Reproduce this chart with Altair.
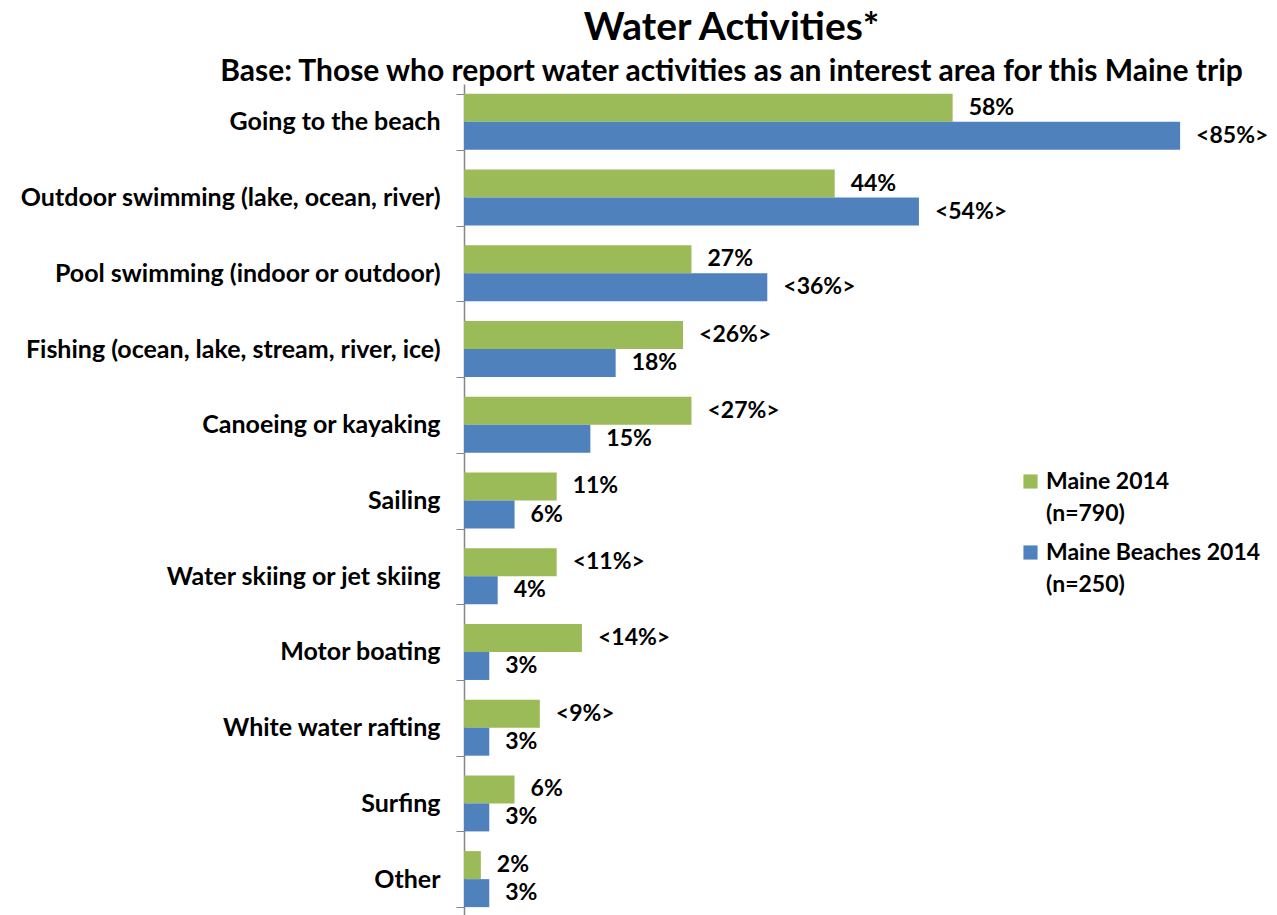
import altair as alt
import pandas as pd

categories = [
    "Going to the beach",
    "Outdoor swimming (lake, ocean, river)",
    "Pool swimming (indoor or outdoor)",
    "Fishing (ocean, lake, stream, river, ice)",
    "Canoeing or kayaking",
    "Sailing",
    "Water skiing or jet skiing",
    "Motor boating",
    "White water rafting",
    "Surfing",
    "Other",
]
series_names = ["Maine 2014", "Maine Beaches 2014"]
sample_sizes = ["(n=790)", "(n=250)"]
maine_2014 = [58, 44, 27, 26, 27, 11, 11, 14, 9, 6, 2]
beaches_2014 = [85, 54, 36, 18, 15, 6, 4, 3, 3, 3, 3]
maine_labels = ["58%", "44%", "27%", "<26%>", "<27%>", "11%", "<11%>", "<14%>", "<9%>", "6%", "2%"]
beaches_labels = ["<85%>", "<54%>", "<36%>", "18%", "15%", "6%", "4%", "3%", "3%", "3%", "3%"]
colors = ["#9BBB59", "#4F81BD"]

series_full = [f"{s}\n{n}" for s, n in zip(series_names, sample_sizes)]

rows = []
for i, c in enumerate(categories):
    rows.append({"activity": c, "series": series_full[0],
                 "value": maine_2014[i], "label": maine_labels[i]})
    rows.append({"activity": c, "series": series_full[1],
                 "value": beaches_2014[i], "label": beaches_labels[i]})
df = pd.DataFrame(rows)

FONT = "Lato"

y_enc = alt.Y(
    "activity:N",
    sort=categories,
    scale=alt.Scale(paddingInner=0.26, paddingOuter=0.13),
    axis=alt.Axis(
        title=None,
        labelFont=FONT,
        labelFontSize=25,
        labelFontWeight="bold",
        labelColor="black",
        labelPadding=16,
        labelLimit=460,
        tickBand="extent",
        tickSize=8,
        tickColor="#868686",
        domainColor="#868686",
        domainWidth=1.5,
        grid=False,
    ),
)
x_enc = alt.X("value:Q", scale=alt.Scale(domain=[0, 96.5]), axis=None)
yoff = alt.YOffset("series:N", sort=series_full)

bars = alt.Chart(df).mark_bar(size=28).encode(
    y=y_enc,
    x=x_enc,
    yOffset=yoff,
    color=alt.Color(
        "series:N",
        sort=series_full,
        scale=alt.Scale(domain=series_full, range=colors),
        legend=alt.Legend(
            title=None,
            orient="none",
            legendX=555,
            legendY=386,
            symbolType="square",
            symbolSize=200,
            symbolStrokeWidth=0,
            labelFont=FONT,
            labelFontSize=23,
            labelFontWeight="bold",
            labelColor="black",
            labelExpr="split(datum.label, '\\n')",
            labelLimit=300,
            rowPadding=15,
            labelOffset=4,
        ),
    ),
)

texts = alt.Chart(df).mark_text(
    align="left", baseline="middle", dx=16, font=FONT, fontSize=23, fontWeight="bold", color="black"
).encode(
    y=alt.Y("activity:N", sort=categories),
    x=x_enc,
    yOffset=yoff,
    text="label:N",
)

chart = alt.layer(bars, texts).properties(
    width=813,
    height=833,
    title=alt.TitleParams(
        "Water Activities*",
        subtitle="Base: Those who report water activities as an interest area for this Maine trip",
        font=FONT,
        fontSize=39,
        fontWeight="bold",
        color="black",
        subtitleFont=FONT,
        subtitleFontSize=30,
        subtitleFontWeight="bold",
        subtitleColor="black",
        subtitlePadding=9,
        anchor="middle",
        dx=-139,
        offset=-15,
    ),
    autosize=alt.AutoSizeParams(type="none"),
    padding={"left": 464, "top": 84, "right": 0, "bottom": 0},
).configure(
    background="white",
    view=alt.ViewConfig(stroke=None),
    style={"guide-label": {"lineHeight": 32}},
)

chart.save("out.html", embed_options={"renderer": "svg", "actions": False})
